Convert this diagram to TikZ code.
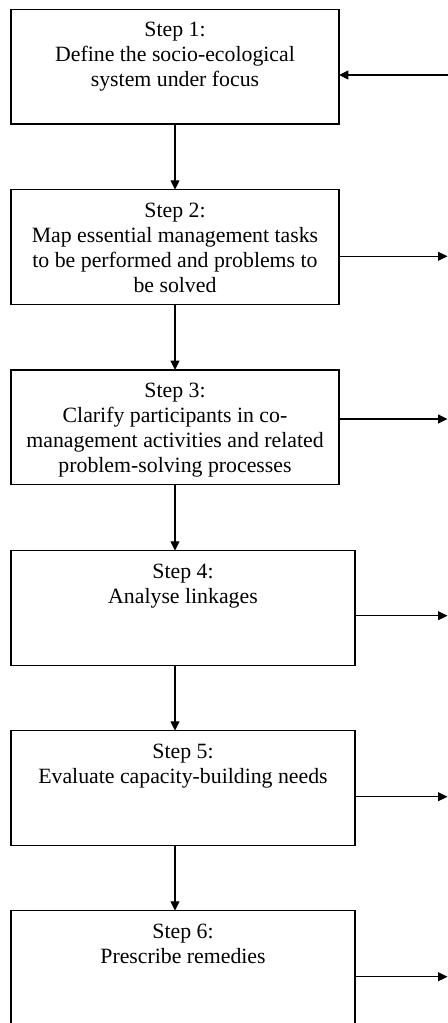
\documentclass[tikz,border=0pt]{standalone}
\usepackage{fontspec}
\setmainfont{Liberation Serif}
\usetikzlibrary{arrows.meta}
\begin{document}
\begin{tikzpicture}[x=0.75pt,y=-0.75pt,
  stepbox/.style={draw, line width=0.8pt, inner sep=0pt, outer sep=0pt, minimum height=86pt},
  narrowbox/.style={stepbox, minimum width=246pt},
  widebox/.style={stepbox, minimum width=258pt},
  steptext/.style={anchor=north, align=center, inner sep=0pt, font=\fontsize{16.35pt}{18.75pt}\selectfont},
  flow/.style={line width=0.8pt, -{Triangle[length=7pt,width=6.6pt]}}]
\useasboundingbox (0,0) rectangle (448,1023);
\clip (0,0) rectangle (448,1023);
\fill[white] (0,0) rectangle (448,1023);

% boxes
\node[narrowbox] (b1) at (175,66.65) {};
\node[narrowbox] (b2) at (175,247.05) {};
\node[narrowbox] (b3) at (175,427.35) {};
\node[widebox] (b4) at (183,608.05) {};
\node[widebox] (b5) at (183,788.05) {};
\node[widebox] (b6) at (183,968.05) {};

% texts
\node[steptext] (t1) at ([yshift=-9.5pt]b1.north) {Step 1:\\Define the socio-ecological\\system under focus};
\node[steptext] (t2) at ([yshift=-9.5pt]b2.north) {Step 2:\\Map essential management tasks\\to be performed and problems to\\be solved};
\node[steptext] (t3) at ([yshift=-9.5pt]b3.north) {Step 3:\\Clarify participants in co-\\management activities and related\\problem-solving processes};
\node[steptext] (t4) at ([yshift=-9.5pt]b4.north) {Step 4:\\Analyse linkages};
\node[steptext] (t5) at ([yshift=-9.5pt]b5.north) {Step 5:\\Evaluate capacity-building needs};
\node[steptext] (t6) at ([yshift=-9.5pt]b6.north) {Step 6:\\Prescribe remedies};

% vertical flow
\draw[flow] (b1.south) -- (b1.south |- b2.north);
\draw[flow] (b2.south) -- (b2.south |- b3.north);
\draw[flow] (b3.south) -- (b3.south |- b4.north);
\draw[flow] (b3.south |- b4.south) coordinate (s4) -- (s4 |- b5.north);
\draw[flow] (b3.south |- b5.south) coordinate (s5) -- (s5 |- b6.north);

% right side connectors
\coordinate (r1) at (448,75);
\coordinate (r2) at (447.5,256.3);
\coordinate (r3) at (447.5,419);
\coordinate (r4) at (447.5,615.7);
\coordinate (r5) at (447.5,796.7);
\coordinate (r6) at (447.5,976.7);
\draw[flow] (r1) -- (r1 -| b1.east);
\draw[flow] (r2 -| b2.east) -- (r2);
\draw[flow] (r3 -| b3.east) -- (r3);
\draw[flow] (r4 -| b4.east) -- (r4);
\draw[flow] (r5 -| b5.east) -- (r5);
\draw[flow] (r6 -| b6.east) -- (r6);
\end{tikzpicture}
\end{document}
